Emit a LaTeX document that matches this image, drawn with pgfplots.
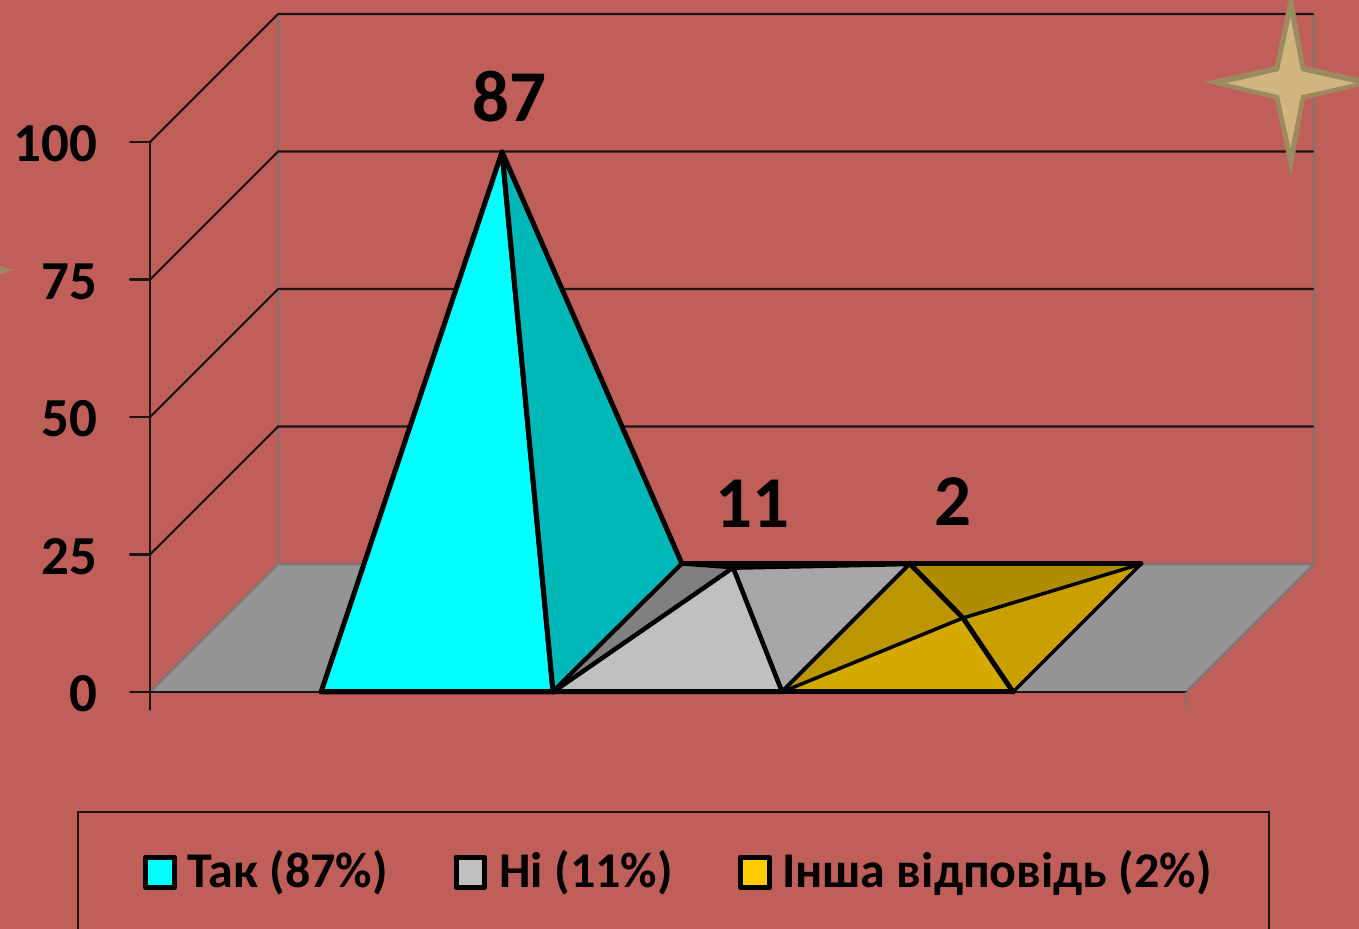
\documentclass[border=0pt]{standalone}
\usepackage{fontspec}
\setmainfont{Carlito}
\usepackage{pgfplots}
\pgfplotsset{compat=1.18}
\definecolor{bg}{HTML}{C05F59}
\definecolor{wall}{HTML}{1E1414}
\definecolor{floorc}{HTML}{949494}
\definecolor{greyl}{HTML}{7F7474}
\definecolor{cy}{HTML}{00FFFF}
\definecolor{cyd}{HTML}{00B8B8}
\definecolor{p2a}{HTML}{C0C0C0}
\definecolor{p2b}{HTML}{A6A6A6}
\definecolor{p2c}{HTML}{808080}
\definecolor{g1}{HTML}{D4A900}
\definecolor{g2}{HTML}{C9A000}
\definecolor{g3}{HTML}{B08C00}
\definecolor{g4}{HTML}{BC9600}
\definecolor{stara}{HTML}{9C8B60}
\definecolor{starb}{HTML}{D2B47E}
\definecolor{keyy}{HTML}{FFCC00}
\pgfplotsset{
  poly/.style={draw=black,line width=#1,line join=round,line cap=round},
  wl/.style={draw=wall,line width=2.2pt,line cap=round},
  gl/.style={draw=greyl,line width=2.2pt},
}
\begin{document}
\begin{tikzpicture}
\begin{axis}[
  scale only axis,width=1359pt,height=929pt,
  xmin=0,xmax=1359,ymin=-43.09,ymax=125.82,
  axis x line=none,axis y line*=left,
  axis line style={draw=none},
  major tick length=0pt,
  ytick={0,25,50,75,100},
  /pgf/number format/assume math mode=true,
  yticklabel style={font=\fontsize{55}{55}\bfseries\selectfont,xshift=97pt,yshift=-2pt,text=black,inner sep=0pt},
  axis background/.style={fill=bg},
  no markers,
]
% floor
\addplot[fill=floorc,draw=none] coordinates {(150,0)(278,23.27)(1314,23.27)(1186,0)(150,0)};
% back wall frame
\addplot[gl] coordinates {(278,23.27)(278,123.27)};
\addplot[gl] coordinates {(1314,23.27)(1314,123.27)};
\addplot[gl] coordinates {(1186,0)(1314,23.27)};
\addplot[gl] coordinates {(150,0)(278,23.27)(1314,23.27)};
% gridlines
\addplot[wl] coordinates {(150,25)(278,48.27)(1313,48.27)};
\addplot[wl] coordinates {(150,50)(278,73.27)(1313,73.27)};
\addplot[wl] coordinates {(150,75)(278,98.27)(1313,98.27)};
\addplot[wl] coordinates {(150,100)(278,123.27)(1313,123.27)};
% front axis + ticks
\addplot[wl] coordinates {(150,100)(150,-3.2)};
\addplot[wl] coordinates {(130,100)(150,100)};
\addplot[wl] coordinates {(130,75)(150,75)};
\addplot[wl] coordinates {(130,50)(150,50)};
\addplot[wl] coordinates {(130,25)(150,25)};
\addplot[wl] coordinates {(130,0)(1186,0)};
\addplot[gl] coordinates {(1186,0)(1186,-3.2)};
% pyramid 1 (87)
\addplot[poly=5pt,fill=cy] coordinates {(321,0)(553,0)(502,98.2)(321,0)};
\addplot[poly=5pt,fill=cyd] coordinates {(553,0)(682,23.27)(502,98.2)(553,0)};
% pyramid 2 (11)
\addplot[poly=3.5pt,fill=p2c] coordinates {(553,0)(682,23.27)(733,22.6)(553,0)};
\addplot[poly=4.5pt,fill=p2b] coordinates {(782,0)(910,23.27)(733,22.6)(782,0)};
\addplot[poly=4.5pt,fill=p2a] coordinates {(553,0)(782,0)(733,22.6)(553,0)};
% pyramid 3 (2)
\addplot[fill=g3,draw=none] coordinates {(910,23.27)(1141,23.27)(963,13.45)(910,23.27)};
\addplot[fill=g4,draw=none] coordinates {(782,0)(910,23.27)(963,13.45)(782,0)};
\addplot[fill=g2,draw=none] coordinates {(1013,0)(1141,23.27)(963,13.45)(1013,0)};
\addplot[fill=g1,draw=none] coordinates {(782,0)(1013,0)(963,13.45)(782,0)};
\addplot[poly=3.5pt] coordinates {(782,0)(910,23.27)};
\addplot[poly=3.5pt] coordinates {(1013,0)(1141,23.27)};
\addplot[poly=3.5pt] coordinates {(782,0)(963,13.45)(1141,23.27)};
\addplot[poly=5pt] coordinates {(910,23.27)(963,13.45)(1013,0)};
\addplot[poly=5pt] coordinates {(682,23.27)(1141,23.27)};
\addplot[poly=5pt] coordinates {(321,0)(1013,0)};
% stars
\addplot[fill=stara,draw=none] coordinates {(1291,128)(1305,113.8)(1378,110.9)(1305,107.8)(1291,93.8)(1275,107.8)(1204,110.9)(1275,113.8)(1291,128)};
\addplot[fill=starb,draw=none] coordinates {(1290.5,122.7)(1301,112.9)(1355,110.7)(1301,108.5)(1290.5,98.9)(1279,108.5)(1227,110.7)(1279,112.9)(1290.5,122.7)};
\addplot[fill=stara,draw=none] coordinates {(0,77.5)(13,76.7)(0,76)(0,77.5)};
% legend box
\addplot[draw=wall,line width=1.5pt] coordinates {(78,-43.09)(78,-21.82)(1269,-21.82)(1269,-43.09)};
\addplot[poly=5pt,fill=cy] coordinates {(145.5,-30.09)(174.5,-30.09)(174.5,-35.55)(145.5,-35.55)(145.5,-30.09)};
\addplot[poly=5pt,fill=p2a] coordinates {(456,-30.09)(484.5,-30.09)(484.5,-35.55)(456,-35.55)(456,-30.09)};
\addplot[poly=5pt,fill=keyy] coordinates {(740.5,-30.09)(769.5,-30.09)(769.5,-35.55)(740.5,-35.55)(740.5,-30.09)};
% text
\node[anchor=base,font=\fontsize{73}{73}\bfseries\selectfont,inner sep=0pt] at (axis cs:509,103.64) {87};
\node[anchor=base,font=\fontsize{73}{73}\bfseries\selectfont,inner sep=0pt] at (axis cs:752,29.82) {11};
\node[anchor=base,font=\fontsize{73}{73}\bfseries\selectfont,inner sep=0pt] at (axis cs:953,30.18) {2};
\node[anchor=base west,font=\fontsize{50}{50}\bfseries\selectfont,inner sep=0pt] at (axis cs:187,-35.64) {Так (87\%)};
\node[anchor=base west,font=\fontsize{50}{50}\bfseries\selectfont,inner sep=0pt] at (axis cs:499,-35.64) {Ні (11\%)};
\node[anchor=base west,font=\fontsize{50}{50}\bfseries\selectfont,inner sep=0pt] at (axis cs:782,-35.64) {Інша відповідь (2\%)};
\end{axis}
\end{tikzpicture}
\end{document}
